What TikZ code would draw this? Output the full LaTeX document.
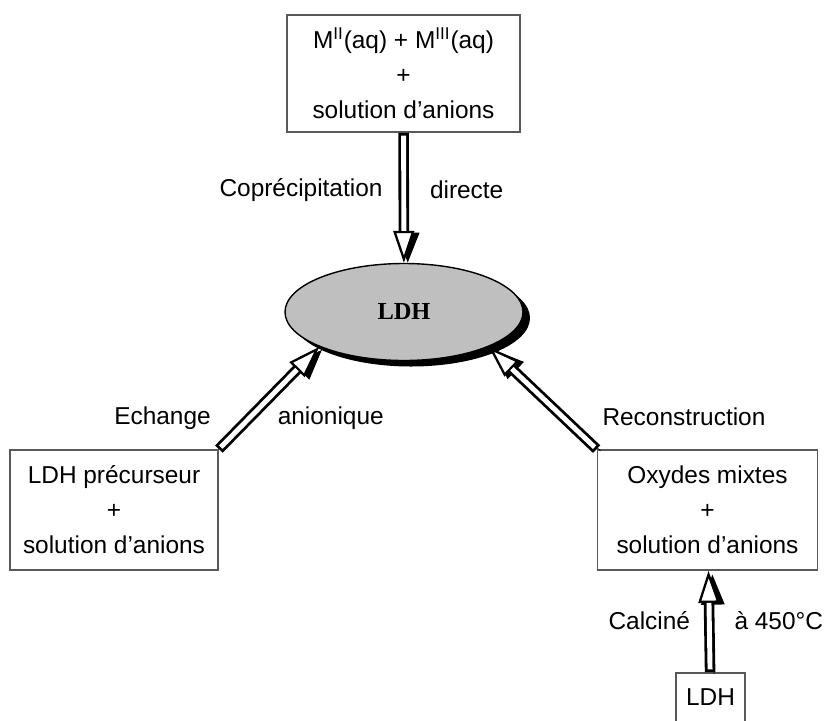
\documentclass[tikz,border=0pt]{standalone}
\usepackage{fontspec}
\setmainfont{Liberation Sans}
\newfontfamily\timesfont{Liberation Serif}
\usetikzlibrary{shapes.geometric, arrows.meta, shadows}

\begin{document}
\begin{tikzpicture}[
        font=\fontsize{13.9}{19.9}\selectfont,
        boite/.style={draw=black!65, line width=1pt, align=center, inner sep=0pt},
        etiq/.style={inner sep=0pt},
        fleche/.style={line width=6pt,
            -{Triangle[open, fill=white, line width=1.3pt, length=0.64cm, width=0.42cm]},
            preaction={draw, transform canvas={xshift=2.2pt, yshift=-1pt},
                -{Triangle[length=0.64cm, width=0.42cm]}},
            postaction={draw=white, line width=2.8pt, -, shorten >=0.64cm, shorten <=1.6pt}}
    ]
        \useasboundingbox (0,0) rectangle (16.54,-14.4);

        \node[boite, minimum width=4.66cm, minimum height=2.34cm] (melange) at (8.07,-1.47)
            {M\textsuperscript{II}(aq) + M\textsuperscript{III}(aq)\\+\\solution d'anions};
        \node[ellipse, draw, line width=0.8pt, fill=black!25, inner sep=0pt,
            minimum width=4.76cm, minimum height=1.94cm,
            drop shadow={shadow xshift=0.14cm, shadow yshift=-0.12cm, opacity=1, fill=black}]
            (ldh) at (8.08,-6.24) {\timesfont\bfseries\fontsize{13.9}{16}\selectfont LDH};
        \node[boite, minimum width=4.16cm, minimum height=2.4cm] (precurseur) at (2.28,-10.2)
            {LDH précurseur\\+\\solution d'anions};
        \node[boite, minimum width=4.4cm, minimum height=2.4cm] (oxydes) at (14.15,-10.2)
            {Oxydes mixtes\\+\\solution d'anions};
        \node[boite, minimum width=1.38cm, minimum height=0.98cm] (ldhcalc) at (14.21,-13.95) {LDH};

        \draw[fleche] (melange) -- (ldh)
            node[etiq, pos=0.44, left=0.32cm] {Coprécipitation}
            node[etiq, pos=0.44, right=0.42cm] {directe};
        \draw[fleche] (precurseur.north east) -- (ldh.south west)
            node[etiq, pos=0.3, left=0.66cm] {Echange}
            node[etiq, pos=0.3, right=0.47cm] {anionique};
        \draw[fleche] (oxydes.north west) -- (ldh.south east)
            node[etiq, pos=0.3, right=0.66cm, yshift=1pt] {Reconstruction};
        \draw[fleche] (ldhcalc) -- (oxydes)
            node[etiq, pos=0.51, left=0.28cm] {Calciné}
            node[etiq, pos=0.51, right=0.4cm] {à 450°C};
    \end{tikzpicture}
\end{document}
